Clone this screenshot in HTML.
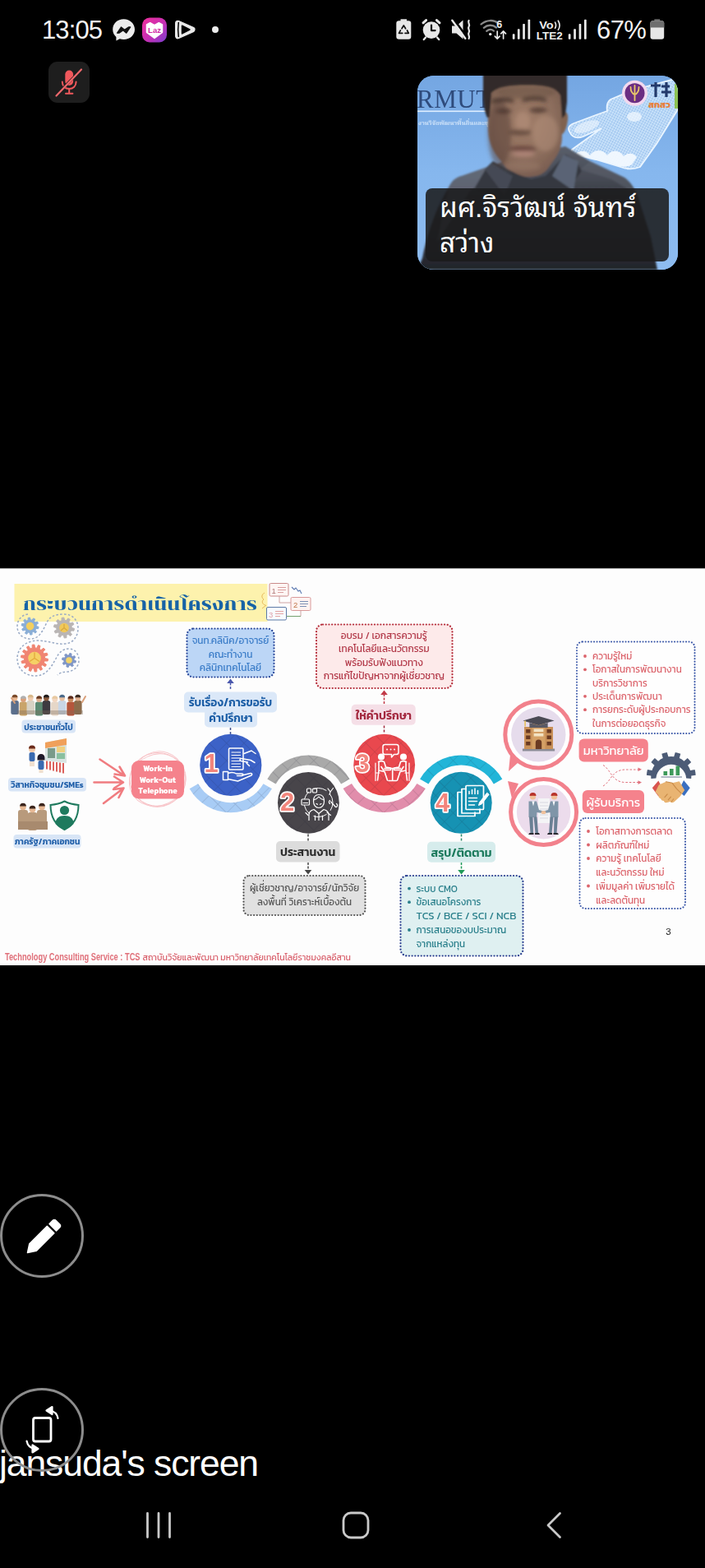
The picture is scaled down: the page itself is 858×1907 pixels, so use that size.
<!DOCTYPE html>
<html lang="th">
<head>
<meta charset="utf-8">
<title>jansuda's screen</title>
<style>
html,body{margin:0;padding:0;background:#000;}
body{width:858px;height:1907px;position:relative;overflow:hidden;font-family:"Liberation Sans","Noto Sans Thai",sans-serif;color:#fff;}
.abs{position:absolute;}
#time{left:51px;top:18.5px;font-size:31px;line-height:36px;letter-spacing:-0.9px;color:#f4f4f4;white-space:nowrap;}
#pct{left:726px;top:18.5px;font-size:31px;line-height:36px;letter-spacing:-0.6px;color:#f4f4f4;white-space:nowrap;}
#sb{left:0;top:0;width:858px;height:70px;}
#mic{left:59px;top:75px;width:50px;height:50px;border-radius:11px;background:#1e1e1e;}
#thumb{left:508px;top:92px;width:317px;height:236px;border-radius:20px;overflow:hidden;background:#7fb0e6;}
#namebox{left:10px;top:137px;width:296px;height:89px;border-radius:8px;background:rgba(27,27,29,0.880);}
#name{left:27px;top:139px;width:280px;font-family:"Liberation Sans","Noto Sans Thai Looped","Loma","Noto Sans Thai",sans-serif;font-size:33.5px;line-height:43px;color:#fff;letter-spacing:0;}
#slide{left:0;top:691px;width:858px;height:483px;background:#fdfdfd;overflow:hidden;}
.cbtn{width:96px;height:96px;border-radius:50%;border:3.5px solid #8c8c8c;box-sizing:content-box;}
#pen{left:0px;top:1451.500px;}
#rot{left:0px;top:1687.500px;}
#cap{left:-1px;top:1752px;font-size:44.5px;line-height:56px;color:#fff;white-space:nowrap;letter-spacing:-1.1px;}
#nav{left:0;top:1820px;width:858px;height:70px;}
</style>
</head>
<body>
<!-- status bar -->
<div id="time" class="abs">13:05</div>
<svg id="sb" class="abs" viewBox="0 0 858 70">
  <defs>
    <linearGradient id="lazg" x1="0" y1="0" x2="1" y2="1">
      <stop offset="0" stop-color="#f0309a"/><stop offset="0.55" stop-color="#c62fb4"/><stop offset="1" stop-color="#7a3fd0"/>
    </linearGradient>
  </defs>
  <!-- messenger -->
  <g>
    <path d="M150.6 23.2c-7.6 0-13.4 5.4-13.4 12.6 0 3.8 1.6 7 4.2 9.2v4.6l4.4-2.4c1.5.5 3.1.8 4.8.8 7.6 0 13.4-5.4 13.4-12.2S158.200 23.200 150.600 23.200z" fill="#ececec"/>
    <path d="M142.6 40.2l4.9-7.300 4.1 3.300 4.800-3.300 2.300 0-4.900 7.300-4.100-3.300-4.800 3.300z" fill="#111" stroke="#111" stroke-width="1.200" stroke-linejoin="round"/>
  </g>
  <!-- Laz -->
  <g>
    <rect x="173" y="21.500" width="30" height="30" rx="9" fill="url(#lazg)"/>
    <path d="M188 46.500l-9.500-7.200v-9.300l4.200-2.300 5.300 3 5.300-3 4.200 2.300v9.300z" fill="#fff" stroke="#fff" stroke-width="1.500" stroke-linejoin="round"/>
    <text x="188" y="39.800" font-family="Liberation Sans, sans-serif" font-size="9.500" font-weight="bold" fill="#d12aa6" text-anchor="middle">Laz</text>
  </g>
  <!-- play -->
  <g stroke-linejoin="round" stroke-linecap="round">
    <path d="M216.500 28.200l17.500 7.800-17.500 7.800z" fill="#e8e8e8" stroke="#e8e8e8" stroke-width="7"/>
    <path d="M217.300 27.500c-.8 5.500-.8 11.500 0 17" fill="none" stroke="#000" stroke-width="1.500"/>
    <path d="M221.600 31.200l9.300 4.800-9.300 4.800z" fill="#000" stroke="#000" stroke-width="1.600"/>
  </g>
  <circle cx="262" cy="36" r="4" fill="#ececec"/>

  <!-- battery recycle -->
  <g>
    <path d="M487.500 23.300h7.500v2.600h-7.500z" fill="#e8e8e8"/>
    <rect x="482.300" y="25.200" width="18" height="22.600" rx="3.200" fill="#e8e8e8"/>
    <g fill="none" stroke="#111" stroke-width="1.700" stroke-linecap="round" stroke-linejoin="round">
      <path d="M489 34.800l2.300-3.900 2.300 3.900"/>
      <path d="M495.500 37l1.800 3.300h-4.300"/>
      <path d="M489.800 40.300h-4.300l1.900-3.400"/>
    </g>
  </g>
  <!-- alarm -->
  <g>
    <circle cx="525" cy="36.600" r="10.300" fill="#e8e8e8"/>
    <path d="M515 27.800l3.600-3.200M535 27.800l-3.600-3.200" stroke="#e8e8e8" stroke-width="3" stroke-linecap="round"/>
    <path d="M518 45.500l-2.200 2.500M532 45.500l2.200 2.500" stroke="#e8e8e8" stroke-width="2.400" stroke-linecap="round"/>
    <path d="M525 30.500v6.600h4.600" fill="none" stroke="#111" stroke-width="2.200" stroke-linecap="round" stroke-linejoin="round"/>
  </g>
  <!-- mute vibrate -->
  <g>
    <path d="M550 31.500h5.500l8-7v23l-8-7H550z" fill="#e8e8e8"/>
    <path d="M551 21.500l18 25" stroke="#000" stroke-width="2.600"/>
    <path d="M550.300 24.800l16 22" stroke="#e8e8e8" stroke-width="2.400" stroke-linecap="round"/>
    <path d="M570.600 25c-2 2.500 2 4.500 0 7.300s2 4.500 0 7.300 2 4.500 0 7.300" fill="none" stroke="#e8e8e8" stroke-width="2.200" stroke-linecap="round"/>
  </g>
  <!-- wifi -->
  <g fill="none" stroke-linecap="round">
    <path d="M585.500 29.500c6.500-5.800 15.500-5.800 21 -1" stroke="#8a8a8a" stroke-width="2.300"/>
    <path d="M588.800 33.800c4.600-4 10.800-4 15.200-.3" stroke="#8a8a8a" stroke-width="2.300"/>
    <path d="M592.200 37.800c2.700-2.300 6.200-2.300 8.800-.2" stroke="#8a8a8a" stroke-width="2.300"/>
    <circle cx="596.700" cy="41.600" r="1.700" fill="#f0f0f0" stroke="none"/>
  </g>
  <text x="604.300" y="34.300" font-family="Liberation Sans, sans-serif" font-size="12.500" font-weight="bold" fill="#ececec">6</text>
  <g fill="none" stroke="#ececec" stroke-width="1.700" stroke-linecap="round" stroke-linejoin="round">
    <path d="M605.200 38v8.800M602.300 44.200l2.900 2.900 2.900-2.900"/>
    <path d="M612.600 47v-8.800M609.700 40.800l2.900-2.900 2.900 2.900"/>
  </g>
  <!-- signal 1 -->
  <g fill="#ececec">
    <rect x="623.800" y="41.300" width="2.700" height="6.400" rx="0.800"/>
    <rect x="629.900" y="35.200" width="2.700" height="12.500" rx="0.800"/>
    <rect x="636.200" y="29" width="2.700" height="18.700" rx="0.800"/>
    <rect x="642.500" y="23.800" width="2.700" height="23.900" rx="0.800"/>
  </g>
  <!-- VoLTE -->
  <text x="656.200" y="35" font-family="Liberation Sans, sans-serif" font-size="12.800" font-weight="bold" fill="#ececec" textLength="17.500" lengthAdjust="spacingAndGlyphs">Vo</text>
  <g fill="none" stroke="#ececec" stroke-width="1.600" stroke-linecap="round">
    <path d="M675.500 27.200c1.300 2.200 1.300 5 0 7.200"/>
    <path d="M679.300 25.200c2.200 3.500 2.200 7.700 0 11.200"/>
  </g>
  <text x="652.800" y="47.500" font-family="Liberation Sans, sans-serif" font-size="12.800" font-weight="bold" fill="#ececec" textLength="32" lengthAdjust="spacingAndGlyphs">LTE2</text>
  <!-- signal 2 -->
  <g fill="#ececec">
    <rect x="691.800" y="41.300" width="2.700" height="6.400" rx="0.800"/>
    <rect x="698.200" y="35.200" width="2.700" height="12.500" rx="0.800"/>
    <rect x="704.600" y="29" width="2.700" height="18.700" rx="0.800"/>
    <rect x="711" y="23.800" width="2.700" height="23.900" rx="0.800"/>
  </g>
  <!-- battery -->
  <g>
    <path d="M796.300 23.300h7v3h-7z" fill="#6e6e6e"/>
    <rect x="791.500" y="25.200" width="16.700" height="22.600" rx="3" fill="#e6e6e6"/>
    <path d="M791.500 33.400v-5.200a3 3 0 0 1 3-3h10.700a3 3 0 0 1 3 3v5.200z" fill="#6e6e6e"/>
  </g>
</svg>
<div id="pct" class="abs">67%</div>

<!-- mic muted -->
<div id="mic" class="abs"><svg width="50" height="50" viewBox="0 0 50 50">
  <rect x="20.300" y="10.500" width="9.800" height="18.500" rx="4.900" fill="#f0585c"/>
  <path d="M16.800 24.500c0 5.200 3.600 8.600 8.400 8.600s8.400-3.400 8.400-8.600" fill="none" stroke="#f0585c" stroke-width="2" stroke-linecap="round"/>
  <path d="M25.200 33.200v5M21 38.800h8.400" stroke="#f0585c" stroke-width="2" stroke-linecap="round"/>
  <path d="M10.500 39.500L39 10.500" stroke="#1e1e1e" stroke-width="3.200"/>
  <path d="M9.500 41.500L40 9.500" stroke="#f0686c" stroke-width="2.200" stroke-linecap="round"/>
</svg></div>

<!-- video thumbnail -->
<div id="thumb" class="abs">
<svg class="abs" style="left:0;top:0" width="317" height="236" viewBox="0 0 317 236">
  <defs>
    <linearGradient id="sky" x1="0" y1="0" x2="0" y2="1">
      <stop offset="0" stop-color="#74a6e2"/><stop offset="0.5" stop-color="#86b7ee"/><stop offset="1" stop-color="#8ebcf0"/>
    </linearGradient>
    <radialGradient id="skin" cx="0.5" cy="0.42" r="0.65">
      <stop offset="0" stop-color="#a07d69"/><stop offset="0.6" stop-color="#8d6e5d"/><stop offset="1" stop-color="#74594d"/>
    </radialGradient>
    <linearGradient id="jacket" x1="0" y1="0" x2="0" y2="1">
      <stop offset="0" stop-color="#5a5f6b"/><stop offset="0.4" stop-color="#3b3e47"/><stop offset="1" stop-color="#23252b"/>
    </linearGradient>
    <radialGradient id="handg" cx="0.55" cy="0.45" r="0.6">
      <stop offset="0" stop-color="#e6f4ff" stop-opacity="0.95"/><stop offset="0.7" stop-color="#c7e2fb" stop-opacity="0.85"/><stop offset="1" stop-color="#b5d6f6" stop-opacity="0.7"/>
    </radialGradient>
    <filter id="b1" x="-10%" y="-10%" width="120%" height="120%"><feGaussianBlur stdDeviation="1.300"/></filter>
    <filter id="b2" x="-10%" y="-10%" width="120%" height="120%"><feGaussianBlur stdDeviation="2.500"/></filter>
    <filter id="b05"><feGaussianBlur stdDeviation="0.500"/></filter>
    <pattern id="mesh" width="3" height="3" patternUnits="userSpaceOnUse" patternTransform="rotate(28)">
      <rect width="3" height="3" fill="#cfe6fb"/><circle cx="1.500" cy="1.500" r="0.900" fill="#8db8ea"/>
    </pattern>
  </defs>
  <rect width="317" height="236" fill="url(#sky)"/>
  <!-- backdrop lettering -->
  <g filter="url(#b05)">
    <text x="-1" y="38.500" font-family="Liberation Serif, serif" font-size="31" fill="#2f4b7c" letter-spacing="0.500">RMUT</text>
    <rect x="0" y="42.500" width="90" height="1.600" fill="#dfeeff"/>
    <text x="1" y="59.500" font-family="Liberation Serif, Noto Serif Thai, serif" font-size="7.500" font-weight="bold" fill="#dcebfc" opacity="0.850">งานวิจัยพัฒนาพื้นถิ่นและชุมชน</text>
  </g>
  <!-- digital hand -->
  <g filter="url(#b05)">
    <path d="M185 68c-3-5 1-9 8-11l24-9 14-5c-1-6 0-11 4-14l26-11 56-15v38l-26 42-20 28c-7 3-16 3-24 0l-30-9-26-6c-3-1-5-3-3-6l36-26-22 10c-8 3-14 1-17-6z" fill="url(#mesh)" opacity="0.950"/>
    <path d="M185 68c-3-5 1-9 8-11l24-9 14-5c-1-6 0-11 4-14l26-11 56-15v38l-26 42-20 28c-7 3-16 3-24 0l-30-9-26-6c-3-1-5-3-3-6l36-26-22 10c-8 3-14 1-17-6z" fill="none" stroke="#eaf5ff" stroke-width="1.800"/>
    <ellipse cx="264" cy="50" rx="9" ry="6" fill="#f4faff" opacity="0.700"/>
    <ellipse cx="206" cy="62" rx="16" ry="6" fill="#f4faff" opacity="0.550" transform="rotate(-20 206 62)"/>
    <path d="M190 98c6-8 15-8 20-1 5-8 16-8 21 0 5-7 15-7 20 1 5-5 12-4 16 1l-6 9c-6 4-14 3-22 0l-28-8z" fill="#f2f9ff" opacity="0.950"/>
  </g>
  <!-- logos -->
  <g>
    <circle cx="264.500" cy="21.300" r="15.500" fill="#f3d9ee"/>
    <circle cx="264.500" cy="21.300" r="12" fill="#6b2d82"/>
    <path d="M264.500 12v18M259.500 14c0 6 2 8 5 9M269.500 14c0 6-2 8-5 9" fill="none" stroke="#e8c76a" stroke-width="1.800" stroke-linecap="round"/>
    <path d="M290 8v18M296 12h-12M303 8v18M297 20h12M297 13h10" stroke="#22396b" stroke-width="3.200" fill="none"/>
    <text x="281" y="38.500" font-family="Liberation Sans, Kanit, Noto Sans Thai, sans-serif" font-size="11" font-weight="bold" fill="#e8803a" textLength="27" lengthAdjust="spacingAndGlyphs">สกสว</text>
    <rect x="313" y="10" width="4" height="30" fill="#8cc152"/>
  </g>
  <!-- person -->
  <g filter="url(#b1)">
    <!-- jacket / shoulders -->
    <path d="M0 236l6-14c6-30 16-60 32-86 4-8 8-12 16-14l40-14 30-10 56-12 30 18 42 20c6 4 12 12 16 22l16 50 8 40z" fill="url(#jacket)"/>
    <path d="M38 136c4-8 8-12 16-14l40-14 12 6-42 26-40 62z" fill="#6f7785" opacity="0.650"/>
    <path d="M210 104l42 20c6 4 10 10 14 20l-30-18-38-12z" fill="#5d626d" opacity="0.550"/>
    <!-- face -->
    <path d="M86 30c0-16 10-24 30-24h34c16 0 26 8 26 24l0 44c0 10-3 18-8 26l-10 14c-6 7-14 9-24 9s-17-3-25-10l-12-15c-6-8-11-20-11-36z" fill="url(#skin)"/>
    <!-- collar closing under chin -->
    <path d="M84 112l8-8 30 16 16 6 18-4 24-26 12 6 8 14-30 40-60 10-40-30z" fill="#34373f"/>
    <path d="M90 106l26 16-10 24-24-32z" fill="#454954"/>
    <path d="M178 96l18 8-6 36-26-18z" fill="#5a6474"/>
    <!-- ear -->
    <path d="M175 44c6-2 9 2 8 10s-4 18-9 18z" fill="#80624f"/>
    <!-- hair -->
    <path d="M80 -2h102v34l-2 16-4 4 -2-28c-6-10-18-12-40-12-24 0-36 2-44 9l-2 30-3 0c-4-8-5-20-5-34z" fill="#312b2a"/>
    <path d="M86 6c12-4 78-4 90 1v-12h-90z" fill="#312b2a"/>
  </g>
  <g filter="url(#b2)">
    <!-- shading -->
    <ellipse cx="100" cy="70" rx="14" ry="40" fill="#5c463c" opacity="0.550"/>
    <ellipse cx="156" cy="70" rx="16" ry="22" fill="#b8957f" opacity="0.450"/>
    <ellipse cx="132" cy="20" rx="36" ry="8" fill="#6a5246" opacity="0.550"/>
    <!-- brows / eyes -->
    <path d="M90 30c8-4 18-4 27-1v4c-9-2-19-2-27 1zM128 28c10-3 20-3 29 0v4c-9-3-19-3-29 0z" fill="#3a2a25" opacity="0.850"/>
    <ellipse cx="105" cy="43" rx="10" ry="3" fill="#4a352e" opacity="0.850"/>
    <ellipse cx="147" cy="42" rx="11" ry="3" fill="#4a352e" opacity="0.850"/>
    <!-- nose -->
    <ellipse cx="128" cy="56" rx="9" ry="12" fill="#b08c76" opacity="0.700"/>
    <ellipse cx="125" cy="69" rx="14" ry="3.500" fill="#5e4438" opacity="0.850"/>
    <!-- mouth -->
    <ellipse cx="128" cy="89" rx="17" ry="3" fill="#5e3c34" opacity="0.900"/>
    <ellipse cx="129" cy="95" rx="14" ry="3.500" fill="#b98c80" opacity="0.750"/>
    <ellipse cx="128" cy="110" rx="22" ry="6" fill="#9a7a68" opacity="0.500"/>
  </g>
</svg>
  <div id="namebox" class="abs"></div>
  <div id="name" class="abs">ผศ.จิรวัฒน์ จันทร์ สว่าง</div>
</div>

<!-- shared slide -->
<div id="slide" class="abs">
<svg class="abs" style="left:0;top:0" width="858" height="483" viewBox="0 0 858 483" font-family="Kanit, 'Liberation Sans', 'Noto Sans Thai', sans-serif">
  <defs>
    <pattern id="dia" width="15" height="15" patternUnits="userSpaceOnUse" patternTransform="rotate(45)">
      <path d="M0 0H15M0 0V15" stroke="#1a1a2a" stroke-opacity="0.170" stroke-width="1.300" fill="none"/>
    </pattern>
    <filter id="sb" x="-2%" y="-2%" width="104%" height="104%"><feGaussianBlur stdDeviation="0.550"/></filter>
  </defs>
  <rect width="858" height="483" fill="#fdfdfd"/>
  <rect x="0" y="0" width="858" height="1" fill="#b0b0b0"/>
  <g filter="url(#sb)">
  <!-- TITLE -->
  <rect x="17.500" y="19" width="308" height="46" fill="#fdf2ad"/>
  <text x="28" y="50.500" font-family="Chonburi, 'Liberation Serif', 'Noto Serif Thai', serif" font-size="21" fill="#1763a6" textLength="285" lengthAdjust="spacingAndGlyphs">กระบวนการดำเนินโครงการ</text>

  <!-- BOX 1 blue -->
  <rect x="227.500" y="73.500" width="106" height="59" rx="8" fill="#bcd6f6" stroke="#2c4a9c" stroke-width="2.200" stroke-dasharray="0.100 3.600" stroke-linecap="round"/>
  <g font-size="11.800" fill="#3a7cc8" text-anchor="middle" font-weight="400">
    <text x="280.500" y="92.300">จนท.คลินิค/อาจารย์</text>
    <text x="280.500" y="108.500">คณะทำงาน</text>
    <text x="280.500" y="124.800">คลินิกเทคโนโลยี</text>
  </g>
  <path d="M280.500 147v-9" stroke="#4a58ad" stroke-width="1.500" stroke-dasharray="3 1.500"/>
  <path d="M280.500 134.500l-4.300 5.500h8.600z" fill="#4a58ad"/>

  <!-- label 1 -->
  <rect x="224" y="150.500" width="113" height="25" rx="5" fill="#dbe8f8"/>
  <rect x="249" y="172" width="64" height="21.500" rx="5" fill="#dbe8f8"/>
  <g font-size="13.500" fill="#1c5ea6" text-anchor="middle" font-weight="600">
    <text x="280.500" y="167.800">รับเรื่อง/การขอรับ</text>
    <text x="281" y="186.800">คำปรึกษา</text>
  </g>
  <path d="M280.500 194v8" stroke="#3d4f8f" stroke-width="1.500" stroke-dasharray="3 2"/>

  <!-- BOX 2 red -->
  <rect x="385" y="68.500" width="165.500" height="77.500" rx="8" fill="#fdeaea" stroke="#b52d3a" stroke-width="2.200" stroke-dasharray="0.100 3.600" stroke-linecap="round"/>
  <g font-size="11.800" fill="#b23848" text-anchor="middle" font-weight="400">
    <text x="467.300" y="85.700">อบรม / เอกสารความรู้</text>
    <text x="467.300" y="102.200">เทคโนโลยีและนวัตกรรม</text>
    <text x="467.300" y="118.700">พร้อมรับฟังแนวทาง</text>
    <text x="467.300" y="135.200">การแก้ไขปัญหาจากผู้เชี่ยวชาญ</text>
  </g>
  <path d="M467.500 165v-12" stroke="#c23a48" stroke-width="1.500" stroke-dasharray="3 1.500"/>
  <path d="M467.500 148.500l-4.300 5.500h8.600z" fill="#c23a48"/>
  <!-- label 3 -->
  <rect x="427.700" y="165.700" width="78" height="25" rx="5" fill="#f5dfe7"/>
  <text x="467" y="184.300" font-size="14" font-weight="600" fill="#a3283e" text-anchor="middle">ให้คำปรึกษา</text>
  <path d="M467.500 191.500v10" stroke="#a3283e" stroke-width="1.500" stroke-dasharray="3 2"/>

  <!-- BOX 3 right top -->
  <rect x="702" y="89.500" width="143.500" height="111.500" rx="7" fill="#fefefe" stroke="#3a57a8" stroke-width="2" stroke-dasharray="0.100 3.400" stroke-linecap="round"/>
  <g font-size="11.600" fill="#dc646c" font-weight="400">
    <circle cx="712" cy="107" r="1.900"/><text x="721" y="111">ความรู้ใหม่</text>
    <circle cx="712" cy="123.300" r="1.900"/><text x="721" y="127.300">โอกาสในการพัฒนางาน</text>
    <text x="721" y="143.600">บริการวิชาการ</text>
    <circle cx="712" cy="155.800" r="1.900"/><text x="721" y="159.900">ประเด็นการพัฒนา</text>
    <circle cx="712" cy="172.200" r="1.900"/><text x="721" y="176.200">การยกระดับผู้ประกอบการ</text>
    <text x="721" y="192.500">ในการต่อยอดธุรกิจ</text>
  </g>

  <!-- BOX 4 right bottom -->
  <rect x="705.500" y="304" width="128.500" height="110" rx="7" fill="#fefefe" stroke="#3a57a8" stroke-width="2" stroke-dasharray="0.100 3.400" stroke-linecap="round"/>
  <g font-size="11.600" fill="#dc646c" font-weight="400">
    <circle cx="716" cy="320" r="1.900"/><text x="725.300" y="324">โอกาสทางการตลาด</text>
    <circle cx="716" cy="336.500" r="1.900"/><text x="725.300" y="340.500">ผลิตภัณฑ์ใหม่</text>
    <circle cx="716" cy="353" r="1.900"/><text x="725.300" y="357">ความรู้ เทคโนโลยี</text>
    <text x="725.300" y="373.800">และนวัตกรรม ใหม่</text>
    <circle cx="716" cy="386.500" r="1.900"/><text x="725.300" y="390.700">เพิ่มมูลค่า เพิ่มรายได้</text>
    <text x="725.300" y="407.600">และลดต้นทุน</text>
  </g>
  <text x="813.500" y="445.500" font-family="'Liberation Sans', sans-serif" font-size="11.500" fill="#222" text-anchor="middle">3</text>

  <!-- label 2 -->
  <path d="M375 323.500v8" stroke="#444" stroke-width="1.500" stroke-dasharray="3 2"/>
  <rect x="336" y="332" width="77.500" height="25.500" rx="5" fill="#dcdcdc"/>
  <text x="374.700" y="350.300" font-size="14" font-weight="600" fill="#2e2e2e" text-anchor="middle">ประสานงาน</text>
  <path d="M375 358v9" stroke="#444" stroke-width="1.500" stroke-dasharray="3 1.500"/>
  <path d="M375 372.500l-4.300-5.500h8.600z" fill="#444"/>
  <rect x="296.500" y="374" width="148" height="48" rx="7" fill="#e1e1e1" stroke="#555" stroke-width="2.200" stroke-dasharray="0.100 3.600" stroke-linecap="round"/>
  <g font-size="11.600" fill="#555" text-anchor="middle" font-weight="400">
    <text x="370.500" y="392.500">ผู้เชี่ยวชาญ/อาจารย์/นักวิจัย</text>
    <text x="370.500" y="409.800">ลงพื้นที่ วิเคราะห์เบื้องต้น</text>
  </g>

  <!-- label 4 -->
  <path d="M561.500 323.500v8" stroke="#2a8a6a" stroke-width="1.500" stroke-dasharray="3 2"/>
  <rect x="520" y="332.700" width="83" height="25" rx="5" fill="#d6ecec"/>
  <text x="561.500" y="350.700" font-size="14" font-weight="600" fill="#1b7a5c" text-anchor="middle">สรุป/ติดตาม</text>
  <path d="M561.500 358v9" stroke="#1f9a58" stroke-width="1.500" stroke-dasharray="3 1.500"/>
  <path d="M561.500 372.500l-4.300-5.500h8.600z" fill="#1f9a58"/>
  <rect x="487.500" y="374" width="149" height="97.500" rx="8" fill="#dff0f1" stroke="#2b3f90" stroke-width="2.200" stroke-dasharray="0.100 3.600" stroke-linecap="round"/>
  <g font-size="11.600" fill="#2b808c" font-weight="400">
    <circle cx="498" cy="389.600" r="1.900"/><text x="506.500" y="393.500">ระบบ CMO</text>
    <circle cx="498" cy="406.200" r="1.900"/><text x="506.500" y="410.200">ข้อเสนอโครงการ</text>
    <text x="506.500" y="427" textLength="122" lengthAdjust="spacingAndGlyphs">TCS / BCE / SCI / NCB</text>
    <circle cx="498" cy="440" r="1.900"/><text x="506.500" y="444">การเสนอของบประมาณ</text>
    <text x="506.500" y="461">จากแหล่งทุน</text>
  </g>

  <!-- footer -->
  <text x="6" y="477" font-size="12.200" font-weight="bold" fill="#e0707a" textLength="164.500" lengthAdjust="spacingAndGlyphs" font-family="'Liberation Sans', sans-serif">Technology Consulting Service : TCS</text>
  <text x="173.500" y="477" font-size="11.500" fill="#d9606c" font-weight="400" textLength="253.500" lengthAdjust="spacingAndGlyphs">สถาบันวิจัยและพัฒนา มหาวิทยาลัยเทคโนโลยีราชมงคลอีสาน</text>
  </g>
<g filter="url(#sb)">
<g>
<path d="M34 56C26 57 21 63 21 71C21 80 28 86 37 86C48 86 52 76 57 66C61 58 68 56 78 56C88 56 95 63 95 73C95 84 88 92 78 92C68 93 58 88 46 88C32 88 21 97 21 110C21 122 30 131 43 131C56 131 62 121 68 110C72 102 77 98 84 98C91 98 96 104 96 112C96 120 90 125 82 126C77 126 73 127 70 130" fill="none" stroke="#9aabc6" stroke-width="1.500" stroke-dasharray="2.600 2.200"/>
<path d="M44.4 70.6 L47.1 71.4 L46.6 73.7 L43.9 73.5 L42.9 75.2 L44.6 77.4 L42.9 79.0 L40.8 77.2 L39.0 78.0 L39.1 80.8 L36.7 81.1 L36.1 78.4 L34.2 78.0 L32.6 80.3 L30.5 79.2 L31.6 76.6 L30.3 75.2 L27.7 76.1 L26.7 74.0 L29.0 72.5 L28.8 70.6 L26.1 69.8 L26.6 67.5 L29.3 67.7 L30.3 66.0 L28.6 63.8 L30.3 62.2 L32.4 64.0 L34.2 63.2 L34.1 60.4 L36.5 60.1 L37.1 62.8 L39.0 63.2 L40.6 60.9 L42.7 62.0 L41.6 64.6 L42.9 66.0 L45.5 65.1 L46.5 67.2 L44.2 68.7Z" fill="#8aaed6" stroke="#8aaed6" stroke-width="1" stroke-linejoin="round"/><circle cx="36.6" cy="70.6" r="4.8" fill="#f3cf5e"/>
<path d="M87.3 72.5 L90.5 73.4 L89.9 76.2 L86.6 75.9 L85.5 78.0 L87.5 80.6 L85.5 82.5 L83.0 80.4 L80.9 81.3 L81.0 84.6 L78.2 85.0 L77.4 81.8 L75.1 81.3 L73.3 84.1 L70.8 82.7 L72.1 79.7 L70.5 78.0 L67.4 79.1 L66.2 76.5 L69.0 74.8 L68.7 72.5 L65.5 71.6 L66.1 68.8 L69.4 69.1 L70.5 67.0 L68.5 64.4 L70.5 62.5 L73.0 64.6 L75.1 63.7 L75.0 60.4 L77.8 60.0 L78.6 63.2 L80.9 63.7 L82.7 60.9 L85.2 62.3 L83.9 65.3 L85.5 67.0 L88.6 65.9 L89.8 68.5 L87.0 70.2Z" fill="#b9b5b4" stroke="#b9b5b4" stroke-width="1" stroke-linejoin="round"/><circle cx="78.0" cy="72.5" r="5.8" fill="#f0c85a"/>
<path d="M54.6 109.5 L58.5 110.4 L58.1 113.0 L54.1 112.9 L53.4 115.0 L56.5 117.4 L55.0 119.7 L51.5 117.8 L49.9 119.4 L51.6 122.9 L49.3 124.3 L47.0 121.1 L44.8 121.8 L44.8 125.8 L42.1 126.0 L41.4 122.1 L39.2 121.8 L37.5 125.4 L35.0 124.4 L36.0 120.6 L34.1 119.4 L31.0 121.8 L29.2 119.9 L31.8 116.9 L30.6 115.0 L26.8 115.8 L25.9 113.3 L29.6 111.7 L29.4 109.5 L25.5 108.6 L25.9 106.0 L29.9 106.1 L30.6 104.0 L27.5 101.6 L29.0 99.3 L32.5 101.2 L34.1 99.6 L32.4 96.1 L34.7 94.7 L37.0 97.9 L39.2 97.2 L39.2 93.2 L41.9 93.0 L42.6 96.9 L44.8 97.2 L46.5 93.6 L49.0 94.6 L48.0 98.4 L49.9 99.6 L53.0 97.2 L54.8 99.1 L52.2 102.1 L53.4 104.0 L57.2 103.2 L58.1 105.7 L54.4 107.3Z" fill="#f08572" stroke="#f08572" stroke-width="1" stroke-linejoin="round"/><circle cx="42.0" cy="109.5" r="7.8" fill="#f5d165"/>
<path d="M90.2 112.0 L92.5 112.8 L91.9 115.1 L89.5 114.8 L88.4 116.4 L89.4 118.5 L87.4 119.8 L85.9 117.9 L84.0 118.2 L83.2 120.5 L80.9 119.9 L81.2 117.5 L79.6 116.4 L77.5 117.4 L76.2 115.4 L78.1 113.9 L77.8 112.0 L75.5 111.2 L76.1 108.9 L78.5 109.2 L79.6 107.6 L78.6 105.5 L80.6 104.2 L82.1 106.1 L84.0 105.8 L84.8 103.5 L87.1 104.1 L86.8 106.5 L88.4 107.6 L90.5 106.6 L91.8 108.6 L89.9 110.1Z" fill="#7f96c6" stroke="#7f96c6" stroke-width="1" stroke-linejoin="round"/><circle cx="84.0" cy="112.0" r="3.8" fill="#f3d46a"/>
<path d="M42 109.500v-7M42 109.500l6 4M42 109.500l-6 4" stroke="#e3a93c" stroke-width="1.300" fill="none"/>
<path d="M78 72.500l-4 3.500M78 72.500l4 3.500M78 68v4.500" stroke="#d9a83c" stroke-width="1.200" fill="none"/>
</g>
<g font-family="'Liberation Sans', sans-serif" font-size="9.500">
<rect x="328" y="18.500" width="23" height="15.500" rx="1.500" fill="#fff6f4" stroke="#c98a8a" stroke-width="1"/>
<text x="330.500" y="30.500" fill="#b07878">1</text><path d="M338 23.500h10M338 26.500h10M338 29.500h7" stroke="#d9a0a0" stroke-width="1"/>
<rect x="354" y="35.500" width="24" height="16" rx="1.500" fill="#fff3f1" stroke="#d99a9a" stroke-width="1"/>
<text x="357" y="47.800" fill="#c0764a">2</text><path d="M365 40.500h10M365 43.500h10M365 46.500h8" stroke="#7a8fb5" stroke-width="1"/>
<rect x="324.500" y="47.500" width="24" height="15.500" rx="1.500" fill="#f8fbff" stroke="#5c7aa6" stroke-width="1"/>
<text x="327" y="59.500" fill="#e0a0a8">3</text><path d="M335 52.500h10M335 55.500h10M335 58.500h6" stroke="#e2a3a3" stroke-width="1"/>
<path d="M340 34v8h14M366 51.500v7h-17.500" fill="none" stroke="#c99a9a" stroke-width="0.900"/>
<path d="M366 58.500h-17" fill="none" stroke="#6aa06a" stroke-width="0.900"/>
<path d="M355 23l3 3 2-2 3 4 2-1 2 4" fill="none" stroke="#5a78b0" stroke-width="1.100"/>
<path d="M322 30c-4 2-4 6-1 8-3 2-2 6 2 7M319 49l5-4" fill="none" stroke="#e6b85a" stroke-width="1"/>
</g>
<g>
<rect x="13.3" y="161.0" width="9.500" height="17" rx="2.500" fill="#5b6f8c"/>
<circle cx="18.0" cy="158.0" r="3.400" fill="#e8b894"/>
<path d="M14.5 157.3a3.500 3.500 0 0 1 7 0z" fill="#7a4a2a"/>
<rect x="23.7" y="162.5" width="9.500" height="17" rx="2.500" fill="#c9a46a"/>
<circle cx="28.4" cy="159.5" r="3.400" fill="#d9a07a"/>
<path d="M24.9 158.8a3.500 3.500 0 0 1 7 0z" fill="#b0b0b0"/>
<rect x="32.5" y="161.0" width="9.500" height="17" rx="2.500" fill="#d8d2c4"/>
<circle cx="37.2" cy="158.0" r="3.400" fill="#f0cdb0"/>
<path d="M33.7 157.3a3.500 3.500 0 0 1 7 0z" fill="#d9b98a"/>
<rect x="42.9" y="162.5" width="9.500" height="17" rx="2.500" fill="#5c8a72"/>
<circle cx="47.6" cy="159.5" r="3.400" fill="#e0b090"/>
<path d="M44.1 158.8a3.500 3.500 0 0 1 7 0z" fill="#6a3a20"/>
<rect x="51.7" y="161.0" width="9.500" height="17" rx="2.500" fill="#3d3a40"/>
<circle cx="56.4" cy="158.0" r="3.400" fill="#8a5a3c"/>
<path d="M52.9 157.3a3.500 3.500 0 0 1 7 0z" fill="#1f1a1a"/>
<rect x="62.1" y="162.5" width="9.500" height="17" rx="2.500" fill="#e6d7c8"/>
<circle cx="66.8" cy="159.5" r="3.400" fill="#f2d6c0"/>
<path d="M63.3 158.8a3.500 3.500 0 0 1 7 0z" fill="#e8c9a0"/>
<rect x="70.9" y="161.0" width="9.500" height="17" rx="2.500" fill="#c9d6e6"/>
<circle cx="75.6" cy="158.0" r="3.400" fill="#e8c0a0"/>
<path d="M72.1 157.3a3.500 3.500 0 0 1 7 0z" fill="#4a6a8a"/>
<rect x="81.3" y="162.5" width="9.500" height="17" rx="2.500" fill="#b5563c"/>
<circle cx="86.0" cy="159.5" r="3.400" fill="#c98a60"/>
<path d="M82.5 158.8a3.500 3.500 0 0 1 7 0z" fill="#5a2a1a"/>
<rect x="90.1" y="161.0" width="9.500" height="17" rx="2.500" fill="#8c6b4a"/>
<circle cx="94.8" cy="158.0" r="3.400" fill="#e0b090"/>
<path d="M91.3 157.3a3.500 3.500 0 0 1 7 0z" fill="#3a2a20"/>
<rect x="21" y="173" width="80" height="5" fill="#7a6a5a" opacity="0.350"/>
<path d="M14 158l4 6M104 156l-4 7" stroke="#d9a07a" stroke-width="2" stroke-linecap="round"/>
</g>
<rect x="26.500" y="184.500" width="65.500" height="16" rx="4" fill="#d8e5f6"/>
<text x="59" y="196.500" font-size="10.200" font-weight="600" fill="#1d5da8" text-anchor="middle">ประชาชนทั่วไป</text>
<g>
<path d="M55 212l26-5v43l-26-6z" fill="#d8e4e2"/>
<path d="M55 212l26-5v8l-26 4z" fill="#f0a05a"/>
<path d="M55 234l26 3v13l-26-6z" fill="#fff"/>
<path d="M57 234.500v10M61 235v10.500M65 235.500v11M69 236v11.500M73 236.500v12M77 237v12.500" stroke="#d8504a" stroke-width="1.800"/>
<rect x="58" y="219" width="9" height="12" fill="#7a9a8a"/><rect x="69" y="217" width="10" height="7" fill="#f0d080"/><rect x="69" y="225" width="10" height="7" fill="#8ac0a0"/>
<circle cx="39" cy="220" r="4" fill="#f0c8a8"/><path d="M35 219.500a4 4 0 0 1 8 0z" fill="#6a2a1a"/><rect x="35.500" y="224" width="7" height="11" rx="2" fill="#3a6ab0"/><rect x="36" y="235" width="6" height="6" fill="#f0e0d0"/>
<circle cx="50" cy="230" r="4" fill="#f0c8a8"/><path d="M45.500 230.500a4.500 4.500 0 0 1 9 0l0 3h-9z" fill="#1f1a2a"/><rect x="46.500" y="234" width="7" height="11" rx="2" fill="#3a6ab0"/><rect x="47.500" y="245" width="5" height="4" fill="#f0e0d0"/>
</g>
<rect x="10" y="255" width="95" height="16.500" rx="4" fill="#d8e5f6"/>
<text x="57.500" y="267.300" font-size="10.200" font-weight="600" fill="#1d5da8" text-anchor="middle">วิสาหกิจชุมชน/SMEs</text>
<g>
<rect x="22.0" y="294.0" width="12" height="22" rx="3" fill="#b89a7c"/>
<circle cx="28.0" cy="290.5" r="3.800" fill="#e6b894"/>
<path d="M24.1 289.6a3.900 3.900 0 0 1 7.800 0z" fill="#3a241c"/>
<rect x="33.5" y="297.0" width="12" height="22" rx="3" fill="#b89a7c"/>
<circle cx="39.5" cy="293.5" r="3.800" fill="#e6b894"/>
<path d="M35.6 292.6a3.900 3.900 0 0 1 7.800 0z" fill="#3a241c"/>
<rect x="45.0" y="294.0" width="12" height="22" rx="3" fill="#b89a7c"/>
<circle cx="51.0" cy="290.5" r="3.800" fill="#e6b894"/>
<path d="M47.1 289.6a3.900 3.900 0 0 1 7.800 0z" fill="#3a241c"/>
<rect x="22" y="308" width="36" height="10" fill="#a88a6e"/>
<path d="M78.500 283.500c6 3 11 4 17 4.500 0 14-5 24-17 30-12-6-17-16-17-30 6-.5 11-1.500 17-4.500z" fill="#fff" stroke="#1f7a5e" stroke-width="2"/>
<circle cx="78.500" cy="294.500" r="5.600" fill="#1f7a5e"/>
<path d="M67.500 311c0-7 4.500-10 11-10s11 3 11 10c-3 3.500-6.500 5.500-11 7-4.500-1.500-8-3.500-11-7z" fill="#1f7a5e"/>
</g>
<rect x="16.500" y="324" width="82" height="16.500" rx="4" fill="#d8e5f6"/>
<text x="57.500" y="336.300" font-size="10.200" font-weight="600" fill="#1d5da8" text-anchor="middle">ภาครัฐ/ภาคเอกชน</text>
<g fill="none" stroke="#f07c80" stroke-width="2.600" stroke-linecap="round" stroke-linejoin="round">
<path d="M121.500 232.500l30 20M139.500 250.500l12.500 2-6.500-11"/>
<path d="M114.500 260.500h35.500M139 253.500l11 7-11 7"/>
<path d="M126 286l24.500-18.500M144.500 279l6-11.500-12.500 1.500"/>
</g>
<g>
<ellipse cx="192" cy="257" rx="34" ry="32.500" fill="none" stroke="#f6b8bd" stroke-width="1"/>
<ellipse cx="192.500" cy="256.500" rx="32" ry="34" fill="none" stroke="#f8c8cc" stroke-width="1" transform="rotate(20 192 257)"/>
<ellipse cx="191.500" cy="257.500" rx="35" ry="31" fill="none" stroke="#f8c8cc" stroke-width="0.900" transform="rotate(-25 192 257)"/>
<rect x="160" y="234" width="64" height="46.500" rx="9" fill="#f5828c"/>
<g font-family="Mitr, Kanit, 'Liberation Sans', sans-serif" font-size="9.300" font-weight="600" fill="#fff" text-anchor="middle">
<text x="192" y="246.800">Work-In</text><text x="192" y="260.500">Work-Out</text><text x="192" y="274.200">Telephone</text>
</g></g>
<path d="M330.9 268.3 A57.8 57.8 0 0 1 230.7 268.3 L241.1 262.3 A45.8 45.8 0 0 0 320.5 262.3 Z" fill="#a8ccf5"/><path d="M330.9 268.3 A57.8 57.8 0 0 1 230.7 268.3 L241.1 262.3 A45.8 45.8 0 0 0 320.5 262.3 Z" fill="url(#dia)"/>
<circle cx="280.8" cy="239.4" r="37.6" fill="#3c62c7"/><circle cx="280.8" cy="239.4" r="37.6" fill="url(#dia)"/>
<path d="M325.3 256.4 A57.8 57.8 0 0 1 425.5 256.4 L415.1 262.4 A45.8 45.8 0 0 0 335.7 262.4 Z" fill="#a9a9a9"/><path d="M325.3 256.4 A57.8 57.8 0 0 1 425.5 256.4 L415.1 262.4 A45.8 45.8 0 0 0 335.7 262.4 Z" fill="url(#dia)"/>
<circle cx="375.4" cy="285.3" r="37.4" fill="#48454a"/><circle cx="375.4" cy="285.3" r="37.4" fill="url(#dia)"/>
<path d="M517.8 268.1 A57.8 57.8 0 0 1 417.6 268.1 L428.0 262.1 A45.8 45.8 0 0 0 507.4 262.1 Z" fill="#e18dab"/><path d="M517.8 268.1 A57.8 57.8 0 0 1 417.6 268.1 L428.0 262.1 A45.8 45.8 0 0 0 507.4 262.1 Z" fill="url(#dia)"/>
<circle cx="467.7" cy="239.2" r="37.4" fill="#e9484e"/><circle cx="467.7" cy="239.2" r="37.4" fill="url(#dia)"/>
<path d="M511.1 256.4 A57.8 57.8 0 0 1 611.3 256.4 L600.9 262.4 A45.8 45.8 0 0 0 521.5 262.4 Z" fill="#22b5d8"/><path d="M511.1 256.4 A57.8 57.8 0 0 1 611.3 256.4 L600.9 262.4 A45.8 45.8 0 0 0 521.5 262.4 Z" fill="url(#dia)"/>
<circle cx="561.2" cy="285.3" r="37.5" fill="#1692b3"/><circle cx="561.2" cy="285.3" r="37.5" fill="url(#dia)"/>
</g>
<g filter="url(#sb)">
  <!-- numbers -->
  <g font-family="'Liberation Sans', sans-serif" font-weight="bold" font-size="31" text-anchor="middle" stroke-linejoin="round">
    <g fill="#8a8a9a" opacity="0.550"><text x="258.500" y="249">1</text><text x="351" y="296">2</text><text x="442.500" y="249">3</text><text x="540" y="297.500">4</text></g>
    <g fill="#f2857c" stroke="#ffffff" stroke-width="3.400" paint-order="stroke">
      <text x="257" y="247.500">1</text><text x="349.500" y="294.500">2</text><text x="441" y="247.500">3</text><text x="538.500" y="296">4</text>
    </g>
  </g>
  <!-- icon 1 : document + hands -->
  <g fill="none" stroke="#fff" stroke-width="1.500" stroke-linecap="round" stroke-linejoin="round">
    <rect x="278.500" y="219" width="17.500" height="26" rx="1.200"/>
    <path d="M282 224h10.500M282 227.500h10.500M282 231h10.500M282 234.500h10.500M282 238h10.500M282 241.500h10.500" stroke-width="1.200"/>
    <path d="M311 225.500l-5-3.500-9 3.500M310 236.500l-5-3-11.500-2c-2-.3-2 2.500 0 3l8 1.600M300 237l3.500 3.500"/>
    <path d="M271.500 247.500h6v10h-6zM277.500 249.500c4-1.500 7-1.500 10 .5h7c2 0 2 2.500 0 2.500h-6M277.500 256.500l12 2.500 16.500-7c1.500-1 .5-3-1.500-2.500l-10 2.500"/>
  </g>
  <!-- icon 2 : person with tools -->
  <g fill="none" stroke="#fff" stroke-width="1.200" stroke-linecap="round" stroke-linejoin="round">
    <circle cx="387.500" cy="285" r="17.500" stroke-dasharray="10 7 16 6 12 8" stroke-width="1"/>
    <path d="M381.500 283.500c0-5 2.500-8 6.500-8s6.500 3 6.500 8c0 4.500-2.500 8-6.500 8s-6.500-3.500-6.500-8z"/>
    <path d="M381.500 282c3-.5 5-2 6.500-4 1.500 2 3.500 3.500 6.500 4M385 286.500l1.500.8M391 286.500l-1.500.8"/>
    <path d="M376 306.500v-7c0-3 2.500-5 6-6l6 5 6-5c3.500 1 6 3 6 6v7M388 298.500v8M383.500 301v5.500M392.500 301v5.500"/>
    <rect x="367" y="281" width="9.500" height="7" rx="1"/>
    <path d="M369 285.500h5.500"/>
    <rect x="373.500" y="268" width="5" height="5" rx="1"/><rect x="380.500" y="268" width="5" height="5" rx="1"/>
    <path d="M399 268l3 4 3.500-4.500M402 272l-1 3.500"/>
    <path d="M402.500 284l6 6.500M401.500 282.500c-1.500 1-1.500 3 0 4M409.500 290.500c1.500-1 1.500-3 0-4"/>
    <path d="M372 297.500l3 3M398 297l4.500 3.500"/>
  </g>
  <!-- icon 3 : meeting -->
  <g fill="none" stroke="#fff" stroke-width="1.500" stroke-linecap="round" stroke-linejoin="round">
    <path d="M468.500 214.500h14c1.500 0 2.500 1 2.500 2.500v7c0 1.500-1 2.500-2.500 2.500h-3l-3 3.500v-3.500h-8c-1.500 0-2.500-1-2.500-2.500v-7c0-1.500 1-2.500 2.500-2.500z"/>
    <path d="M471 220.500h.1M475.500 220.500h.1M480 220.500h.1" stroke-width="1.800"/>
    <circle cx="464" cy="229.500" r="3.300" fill="#fff"/>
    <circle cx="491" cy="229.500" r="3.300" fill="#fff"/>
    <path d="M460.500 235.500c2-1 5-1 7 0l2 6.500 6 1v2.500l-9 0-2.500-4M461 236v10l7 1.500 3.500 10.500M461 246l-1.500 12" stroke-width="1.600"/>
    <path d="M494.500 235.500c-2-1-5-1-7 0l-2 6.500-6 1v2.500l9 0 2.500-4M494 236v10l-7 1.500-3.500 10.500M494 246l1.500 12" stroke-width="1.600"/>
    <path d="M468 243.500h19.500M477.700 243.500v15M473 258.500h9.500" stroke-width="1.600"/>
    <path d="M457 237v21.500M498 237v21.500M457 249h5M498 249h-5" stroke-width="1.200"/>
  </g>
  <!-- icon 4 : report -->
  <g fill="none" stroke="#fff" stroke-width="1.700" stroke-linecap="round" stroke-linejoin="round">
    <path d="M562 272.500h-5v29h21v-4.500"/>
    <path d="M567 268.500h-5v29.500h22v-5"/>
    <rect x="567" y="264.500" width="21.500" height="29" rx="1"/>
    <path d="M571 274.500v-3M574.500 274.500v-5M578 274.500v-6.500M581.500 274.500v-4" stroke-width="1.500"/>
    <path d="M570.500 279.500h10M570.500 283.500h10M570.500 288h7" stroke-width="1.500"/>
    <path d="M592.500 273.500l-9 11.500-1 3.500 3.500-1.500 9-11.500z" fill="#fff" stroke-width="1"/>
  </g>

  <!-- university bubble -->
  <g>
    <path d="M631 236l-12 11 2-20z" fill="#f2818c"/>
    <circle cx="655.300" cy="202.400" r="40.500" fill="#fff" stroke="#f2818c" stroke-width="5"/>
    <circle cx="655.300" cy="202.400" r="33.200" fill="#e6dcec"/>
    <!-- building -->
    <g transform="translate(655.3 0) scale(1.06 1) translate(-655.3 7)">
    <rect x="637" y="212.500" width="37" height="3" fill="#8c8c96"/>
    <rect x="639" y="186" width="33" height="27" fill="#c89058"/>
    <rect x="648" y="181" width="15" height="32" fill="#d4a066"/>
    <path d="M637.500 178.500l18-5.500 18 5.500-18 5.500z" fill="#4a4a54"/>
    <path d="M645 181v6h21v-6l-10.500 3.200z" fill="#5a5a64"/>
    <path d="M640 178.500v7" stroke="#e6c05a" stroke-width="1.500"/>
    <g fill="#6a3a22">
      <rect x="641" y="189" width="5" height="4.500"/><rect x="641" y="196.500" width="5" height="4.500"/><rect x="641" y="204" width="5" height="4.500"/>
      <rect x="665" y="189" width="5" height="4.500"/><rect x="665" y="196.500" width="5" height="4.500"/><rect x="665" y="204" width="5" height="4.500"/>
      <rect x="650" y="188.500" width="11" height="3.500" fill="#f3e3c4"/><rect x="650" y="194" width="11" height="3.500" fill="#f3e3c4"/>
      <path d="M652 213v-8a3.500 3.500 0 0 1 7 0v8z"/>
      </g>
  </g>
  </g>
  <!-- customer bubble -->
  <g>
    <path d="M631 262l-13-3 5 21z" fill="#f2818c"/>
    <circle cx="661.600" cy="296.600" r="40" fill="#fff" stroke="#f2818c" stroke-width="5"/>
    <circle cx="661.600" cy="296.600" r="32.800" fill="#ecdcec"/>
    <rect x="655" y="280" width="14" height="30" fill="#f4f4f6"/>
    <path d="M657 285h10M657 289h10M657 293h10M657 300h10M657 304h10" stroke="#d8d8e0" stroke-width="1"/>
    <!-- left man -->
    <circle cx="648.500" cy="278" r="3.600" fill="#f0c09a"/><path d="M644.500 277a4 4 0 0 1 8 0l0-.5z" fill="#b8322a"/>
    <path d="M643.500 283.500h9.500l3 10.500 7 2-.5 2.500-9-1.500-.5 6h-9.500z" fill="#7f95a8"/>
    <path d="M644 302.500h4.500l.5 19.500h-3.500zM649.500 302.500h4l1.500 19.500h-3.500z" fill="#6a8094"/>
    <path d="M644.500 322h5v2h-6.500zM651 322h5l1 2h-6z" fill="#2a2a30"/>
    <path d="M647.500 283.500l1.500 6 1.500-6z" fill="#fff"/>
    <!-- right man -->
    <circle cx="674.500" cy="278" r="3.600" fill="#f0c09a"/><path d="M670.500 277a4 4 0 0 1 8 0l0-.5z" fill="#b8322a"/>
    <path d="M679.500 283.500h-9.500l-3 10.500-7 2 .5 2.500 9-1.500.5 6h9.500z" fill="#7f95a8"/>
    <path d="M679 302.500h-4.500l-.5 19.500h3.500zM673.500 302.500h-4l-1.500 19.500h3.500z" fill="#6a8094"/>
    <path d="M678.500 322h-5v2h6.500zM672 322h-5l-1 2h6z" fill="#2a2a30"/>
    <path d="M675.500 283.500l-1.500 6-1.500-6z" fill="#fff"/>
    <ellipse cx="661.500" cy="297" rx="3" ry="2" fill="#f0c09a"/>
  </g>
  <!-- labels right -->
  <rect x="704.600" y="207.600" width="84.200" height="28" rx="6" fill="#f5828c"/>
  <text x="746.700" y="227.300" font-size="14.800" font-weight="400" fill="#fff" text-anchor="middle">มหาวิทยาลัย</text>
  <rect x="708.800" y="270" width="75.200" height="28" rx="6" fill="#f5828c"/>
  <text x="746.400" y="290" font-size="14.800" font-weight="400" fill="#fff" text-anchor="middle">ผู้รับบริการ</text>
  <!-- crossing dashed arrows -->
  <g fill="none" stroke="#e0707c" stroke-width="1" stroke-dasharray="2.500 2">
    <path d="M734 239.500c10 6 10 20 26 21h18"/>
    <path d="M734 265c10-6 10-19 26-20h18"/>
  </g>
  <path d="M781 244.800l-4.500-2.300v4.600zM781 260.600l-4.500-2.300v4.600z" fill="#e0707c"/>
  <!-- gear + handshake -->
  <g>
    <path d="M792.4 256.1 A24.5 24.5 0 0 1 792.3 252.6 L786.9 251.7 A30.0 30.0 0 0 1 788.0 245.0 L793.5 245.9 A24.5 24.5 0 0 1 796.5 239.8 L792.4 236.1 A30.0 30.0 0 0 1 796.9 231.0 L801.1 234.7 A24.5 24.5 0 0 1 806.8 231.1 L805.3 225.8 A30.0 30.0 0 0 1 811.8 223.9 L813.4 229.2 A24.5 24.5 0 0 1 820.2 229.2 L821.8 223.9 A30.0 30.0 0 0 1 828.3 225.8 L826.8 231.1 A24.5 24.5 0 0 1 832.5 234.7 L836.7 231.0 A30.0 30.0 0 0 1 841.2 236.1 L837.1 239.8 A24.5 24.5 0 0 1 840.1 245.9 L845.6 245.0 A30.0 30.0 0 0 1 846.7 251.7 L841.3 252.6 A24.5 24.5 0 0 1 841.2 256.1 L835.2 255.4 A18.5 18.5 0 0 0 798.4 255.4 Z" fill="#4c5b76"/>
    <rect x="807.500" y="247" width="4.600" height="5" fill="#3e9a5a"/><rect x="815" y="244" width="4.600" height="8" fill="#3e9a5a"/><rect x="822.500" y="240.500" width="4.600" height="11.500" fill="#3e9a5a"/>
    <path d="M804.500 254h25.500" stroke="#8a95a8" stroke-width="1.300"/>
    <g transform="translate(0 5.500) translate(816.8 265) scale(1.08) translate(-816.8 -265)">
    <path d="M795.500 262l7-8 6 12-6 5.500z" fill="#d8544e"/>
    <path d="M838 262l-7-8.500-6 12 6.500 5.500z" fill="#3a6fc0"/>
    <path d="M803 258.500l8-3.500 7 1.500 8-2 6 10-5 7-6 5.500c-2 2-4 2-5.500.5l-3 1c-2 .5-3.500-.5-4-2-2 0-3-1-3.500-2.500-1.500-.5-2.500-1.500-2.500-3.500l-3.500-4z" fill="#e9b472"/>
    <path d="M811 255l7 1.500 5 6.500 5 5M813.500 275.500l3-3.500M809.500 272.500l3-3.500M817 277.500l2.500-3" fill="none" stroke="#c88a48" stroke-width="1" stroke-linecap="round"/>
    </g>
  </g>
</g>


</svg>
</div>

<!-- floating buttons -->
<div id="cap" class="abs">jansuda's screen</div>
<div id="pen" class="abs cbtn"><svg width="96" height="96" viewBox="0 0 96 96">
  <path d="M30.500 68.500l2.300-10.800 21.500-21.500 8.600 8.600-21.500 21.500z" fill="#fff" stroke="#fff" stroke-width="1.500" stroke-linejoin="round"/>
  <path d="M57 33.500l4-4c1.200-1.200 3-1.200 4.200 0l4.300 4.300c1.200 1.200 1.200 3 0 4.200l-4 4z" fill="#fff" stroke="#fff" stroke-width="1.500" stroke-linejoin="round"/>
</svg></div>
<div id="rot" class="abs cbtn"><svg width="96" height="96" viewBox="0 0 96 96">
  <rect x="37.500" y="33.500" width="21.500" height="28.500" rx="2.500" fill="none" stroke="#fff" stroke-width="2.800"/>
  <g fill="none" stroke="#fff" stroke-width="2.200" stroke-linecap="round" stroke-linejoin="round">
    <path d="M57 24.500c6 .5 9.500 4 10.500 9.500"/>
    <path d="M60.500 20l-7 4.500 7 4.500z" fill="#fff"/>
    <path d="M40 71c-6-.5-9.500-4-10.500-9.500"/>
    <path d="M36.500 75.500l7-4.500-7-4.500z" fill="#fff"/>
  </g>
</svg></div>

<!-- nav bar -->
<svg id="nav" class="abs" viewBox="0 0 858 70">
  <g fill="none" stroke="#c9c9c9" stroke-width="2.800" stroke-linecap="round" stroke-linejoin="round">
    <path d="M179.500 20.500v29M193 20.500v29M206.500 20.500v29"/>
    <rect x="418" y="20" width="30" height="30" rx="9"/>
    <path d="M681.500 20.500l-14.500 14.500 14.500 14.500"/>
  </g>
</svg>
</body>
</html>
